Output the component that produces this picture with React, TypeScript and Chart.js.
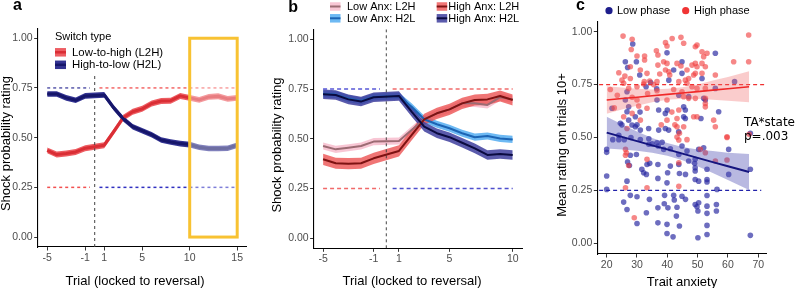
import React, { useEffect, useRef } from "react";
import { Chart, registerables } from "chart.js";

Chart.register(...registerables);

const SANS = "'Liberation Sans', Arial, Helvetica, sans-serif";
const DEJAVU = "'DejaVu Sans', sans-serif";

// ---------------- Panel a data ----------------
const trialsA = [-5, -4, -3, -2, -1, 1, 2, 3, 4, 5, 6, 7, 8, 9, 10, 11, 12, 13, 14, 15];
const aL2H = [0.436, 0.415, 0.42, 0.428, 0.447, 0.462, 0.53, 0.6, 0.63, 0.645, 0.672, 0.684, 0.686, 0.71, 0.7, 0.69, 0.705, 0.708, 0.695, 0.7];
const aL2Hse = [0.015, 0.015, 0.015, 0.015, 0.015, 0.015, 0.015, 0.015, 0.015, 0.015, 0.015, 0.015, 0.015, 0.015, 0.015, 0.015, 0.015, 0.015, 0.015, 0.015];
const aH2L = [0.72, 0.72, 0.7, 0.688, 0.71, 0.715, 0.65, 0.595, 0.555, 0.535, 0.515, 0.488, 0.478, 0.47, 0.465, 0.452, 0.445, 0.445, 0.447, 0.462];
const aH2Lse = [0.014, 0.014, 0.014, 0.014, 0.014, 0.014, 0.014, 0.014, 0.014, 0.014, 0.014, 0.014, 0.014, 0.014, 0.014, 0.014, 0.014, 0.014, 0.014, 0.014];
const trialTicksA = [-5, -1, 1, 5, 10, 15];
const refLinesA: [number, number, number][] = [[-5, -0.5, 0.75], [0.5, 15, 0.75], [-5, -0.5, 0.25], [0.5, 15, 0.25]];
const reversalA: [number, number] = [-0.05, 0.81];
const highlightA = { x0: 10, x1: 15, y0: 0, y1: 1 };
const legendTitleA = "Switch type";
const legendLabelsA = ["Low-to-high (L2H)", "High-to-low (H2L)"];

// ---------------- Panel b data ----------------
const trialsB = [-5, -4, -3, -2, -1, 1, 2, 3, 4, 5, 6, 7, 8, 9, 10];
const bLowL2H = [0.464, 0.447, 0.455, 0.464, 0.486, 0.489, 0.544, 0.598, 0.628, 0.648, 0.678, 0.678, 0.67, 0.709, 0.698];
const bLowH2L = [0.725, 0.722, 0.702, 0.69, 0.71, 0.715, 0.661, 0.598, 0.573, 0.553, 0.528, 0.508, 0.514, 0.502, 0.497];
const bHighL2H = [0.397, 0.377, 0.375, 0.377, 0.402, 0.439, 0.519, 0.598, 0.628, 0.648, 0.678, 0.695, 0.698, 0.715, 0.695];
const bHighH2L = [0.724, 0.72, 0.698, 0.687, 0.709, 0.715, 0.636, 0.561, 0.528, 0.508, 0.48, 0.452, 0.419, 0.424, 0.419];
const bLowL2Hse = [0.018, 0.018, 0.018, 0.018, 0.018, 0.018, 0.018, 0.018, 0.018, 0.018, 0.018, 0.018, 0.018, 0.018, 0.018];
const bLowH2Lse = [0.018, 0.018, 0.018, 0.018, 0.018, 0.018, 0.018, 0.018, 0.018, 0.018, 0.018, 0.018, 0.018, 0.018, 0.018];
const bHighL2Hse = [0.028, 0.028, 0.028, 0.028, 0.028, 0.028, 0.028, 0.028, 0.028, 0.028, 0.028, 0.028, 0.028, 0.028, 0.028];
const bHighH2Lse = [0.024, 0.024, 0.024, 0.024, 0.024, 0.024, 0.024, 0.024, 0.024, 0.024, 0.024, 0.024, 0.024, 0.024, 0.024];
const trialTicksB = [-5, -1, 1, 5, 10];
const refLinesB: [number, number, number][] = [[-5, -0.5, 0.75], [0.5, 10, 0.75], [-5, -0.5, 0.25], [0.5, 10, 0.25]];
const reversalB: [number, number] = [-0.05, 1.05];
const legendLabelsB = ["Low Anx: L2H", "Low Anx: H2L", "High Anx: L2H", "High Anx: H2L"];

// ---------------- Panel c data ----------------
const highPhasePoints: [number, number][] = [
  [25.4, 0.979], [28.4, 0.964], [28.1, 0.916], [30.0, 0.885], [32.5, 0.885], [32.5, 0.866], [36.4, 0.91], [36.9, 0.89],
  [39.4, 0.948], [39.9, 0.932], [41.6, 0.968], [44.5, 0.973], [38.8, 0.858], [39.9, 0.85], [36.9, 0.842], [27.8, 0.834],
  [31.1, 0.819], [33.3, 0.803], [24, 0.806], [25.05, 0.771], [25.6, 0.756], [27.8, 0.779], [32.4, 0.764], [34.2, 0.767],
  [32.2, 0.753], [36.6, 0.764], [39.4, 0.819], [40.5, 0.811], [40.8, 0.795], [43.2, 0.85], [44.5, 0.838], [43.8, 0.764],
  [21.2, 0.727], [27.25, 0.732], [30, 0.74], [33.5, 0.708], [36.6, 0.721], [42.1, 0.727], [28.4, 0.69], [30, 0.677],
  [39.9, 0.677], [30.55, 0.649], [33.3, 0.638], [28.4, 0.614], [25.6, 0.598], [31.1, 0.582], [43.8, 0.63], [39.9, 0.582],
  [43.2, 0.59], [43.2, 0.551], [26.7, 0.543], [22.5, 0.64], [23.5, 0.7], [26, 0.79], [35.5, 0.75], [37.5, 0.8],
  [38, 0.56], [41.5, 0.62], [42.5, 0.56], [44, 0.52],
  [26.2, 0.444], [26.5, 0.428], [26.2, 0.416], [27.25, 0.368], [33.3, 0.397], [26.2, 0.263], [33.3, 0.263], [29.1, 0.121],
  [43.8, 0.27], [43.8, 0.381], [43.8, 0.488], [43.2, 0.502],
  [66.85, 0.984], [66.85, 0.858], [61.9, 0.858], [49.8, 0.937], [49.25, 0.929], [45.4, 0.945], [51.45, 0.905], [53.1, 0.898],
  [52, 0.882], [51.45, 0.85], [49.25, 0.85], [49.8, 0.834], [48.15, 0.842], [52.55, 0.834], [46.5, 0.819], [49.25, 0.803],
  [51.45, 0.803], [48.7, 0.795], [55.85, 0.795], [45.95, 0.771], [47.05, 0.779], [46.5, 0.756], [48.15, 0.74], [49.8, 0.732],
  [52.55, 0.732], [44.85, 0.716], [49.25, 0.685], [52.55, 0.685], [45.4, 0.693], [47.05, 0.685], [52.55, 0.661], [52.55, 0.645],
  [48.7, 0.598], [49.8, 0.598], [55.3, 0.582], [55.85, 0.551], [45.4, 0.551], [59.7, 0.504],
  [50.9, 0.444], [52.55, 0.428], [55.85, 0.389], [59.7, 0.394], [59.7, 0.5], [46.5, 0.49], [67, 0.515],
];
const lowPhasePoints: [number, number][] = [
  [28.6, 0.942], [39.9, 0.9], [26.15, 0.858], [29.8, 0.858], [26.9, 0.831], [30.9, 0.795], [42.1, 0.819], [40.5, 0.771],
  [26.7, 0.716], [43.8, 0.7], [26.15, 0.677], [36.6, 0.677], [21.75, 0.638], [27.25, 0.645], [37.15, 0.63], [26.7, 0.622],
  [29.45, 0.598], [27.25, 0.582], [39.35, 0.614], [45.4, 0.645], [28.35, 0.559], [29.45, 0.551], [31.1, 0.535], [33.85, 0.543],
  [37.15, 0.535], [39.35, 0.543], [40.45, 0.535], [43.75, 0.527], [24.5, 0.567], [33, 0.74], [34.5, 0.76], [36.5, 0.73],
  [40, 0.63], [31, 0.62],
  [20, 0.444], [20, 0.43], [20, 0.318], [20, 0.255], [24, 0.49], [25.8, 0.49], [26.9, 0.384], [27.5, 0.368], [27.8, 0.416],
  [29.8, 0.42], [26.7, 0.294], [27.8, 0.227], [30, 0.22], [25.6, 0.195], [26.7, 0.16], [31.6, 0.35], [32.2, 0.334], [33.1, 0.326],
  [33.3, 0.373], [34.2, 0.378], [36.9, 0.373], [36.9, 0.307], [41, 0.365], [40.1, 0.334], [43.8, 0.373], [44, 0.33], [39.9, 0.286],
  [34.1, 0.208], [33.1, 0.145], [30, 0.094], [36.9, 0.168], [36.9, 0.097], [39.1, 0.227], [39, 0.187], [40.2, 0.168], [42.1, 0.227],
  [42.3, 0.205], [43.2, 0.171], [39.9, 0.09], [39.9, 0.047], [41.9, 0.031], [44, 0.082], [43, 0.129], [43.8, 0.42], [36.6, 0.475],
  [38.3, 0.478], [38.8, 0.444], [41, 0.447], [33.9, 0.468], [31.1, 0.491], [33.9, 0.494], [22, 0.49], [24, 0.51], [25, 0.56],
  [28, 0.5], [30, 0.56], [35, 0.47], [37, 0.46],
  [52, 0.452], [44.85, 0.46], [47.05, 0.389], [49.2, 0.357], [49.2, 0.342], [46, 0.326], [49.2, 0.302], [50.35, 0.294], [53.1, 0.35],
  [53.1, 0.302], [53.1, 0.29], [56.4, 0.255], [60.25, 0.444], [60.25, 0.326], [67.4, 0.35], [44.85, 0.223], [46, 0.208], [49.2, 0.184],
  [50.35, 0.192], [49.8, 0.173], [50.1, 0.153], [53.1, 0.226], [53.1, 0.176], [53.1, 0.142], [56.2, 0.184], [56.2, 0.153], [53.1, 0.085],
  [50.1, 0.027], [53.1, 0.042], [67.4, 0.038], [46.5, 0.436], [50.35, 0.444], [49.2, 0.397], [49, 0.378],
  [55.85, 0.898], [62.2, 0.764], [55.85, 0.732], [51.45, 0.779], [47.05, 0.693], [52, 0.685], [52.55, 0.677], [45.95, 0.63],
  [45.4, 0.598], [45.95, 0.59], [56.95, 0.622], [51.1, 0.59], [44.85, 0.803], [44.85, 0.858], [67.4, 0.52],
];
const fitX = [20, 25, 30, 35, 40, 45, 50, 55, 60, 67];
const highFit = [0.677, 0.684, 0.69, 0.697, 0.704, 0.71, 0.717, 0.724, 0.73, 0.74];
const highFitLo = [0.612, 0.632, 0.65, 0.667, 0.678, 0.683, 0.683, 0.679, 0.674, 0.667];
const highFitHi = [0.742, 0.736, 0.73, 0.727, 0.73, 0.737, 0.751, 0.769, 0.786, 0.813];
const lowFit = [0.523, 0.503, 0.483, 0.463, 0.444, 0.424, 0.404, 0.384, 0.364, 0.337];
const lowFitLo = [0.448, 0.443, 0.437, 0.428, 0.414, 0.393, 0.364, 0.332, 0.3, 0.252];
const lowFitHi = [0.598, 0.563, 0.529, 0.498, 0.474, 0.455, 0.444, 0.436, 0.428, 0.422];
const anxTicks = [20, 30, 40, 50, 60, 70];
const refLinesC: [number, number, number][] = [[17.5, 72, 0.75], [17.5, 71, 0.25]];
const legendLabelsC = ["Low phase", "High phase"];
const statText = ["TA*state", "p=.003"];

const ratingTicks = [0, 0.25, 0.5, 0.75, 1];

// ---------------- helpers ----------------
const pts = (xs: number[], ys: number[]) => xs.map((x, i) => ({ x, y: ys[i] }));
const NONE = "rgba(0,0,0,0)";

function ribbon(xs: number[], ys: number[], se: number[], fill: string, line: string, lw: number, lineOrder: number, fillOrder: number) {
  return [
    { type: "line", data: pts(xs, ys.map((v, i) => v + se[i])), borderWidth: 0, borderColor: NONE, pointRadius: 0, fill: false, order: fillOrder },
    { type: "line", data: pts(xs, ys.map((v, i) => v - se[i])), borderWidth: 0, borderColor: NONE, pointRadius: 0, fill: "-1", backgroundColor: fill, order: fillOrder },
    { type: "line", data: pts(xs, ys), borderColor: line, borderWidth: lw, pointRadius: 0, fill: false, order: lineOrder, borderJoinStyle: "round" },
  ];
}

function hline(seg: [number, number, number], color: string, width: number, dash: number[]) {
  return { type: "line", data: [{ x: seg[0], y: seg[2] }, { x: seg[1], y: seg[2] }], borderColor: color, borderWidth: width, borderDash: dash, pointRadius: 0, fill: false, order: 20 };
}

function vline(x: number, yr: [number, number]) {
  return { type: "line", data: [{ x, y: yr[0] }, { x, y: yr[1] }], borderColor: "#444444", borderWidth: 1, borderDash: [3, 3], pointRadius: 0, fill: false, order: 19 };
}

function scaleCfg(min: number, max: number, ticks: number[], fmt: (v: number) => string, size: number, vertical: boolean) {
  return {
    type: "linear",
    min,
    max,
    afterBuildTicks: (s: any) => {
      s.ticks = ticks.map((v) => ({ value: v }));
    },
    afterFit: (s: any) => {
      if (vertical) s.width = size;
      else s.height = size;
    },
    ticks: {
      color: "#4D4D4D",
      font: { size: 10.5, family: SANS },
      padding: 1.5,
      autoSkip: false,
      maxRotation: 0,
      minRotation: 0,
      callback: (v: any) => fmt(Number(v)),
    },
    grid: { display: true, drawOnChartArea: false, drawTicks: true, tickLength: 3.5, color: "#333333", lineWidth: 1 },
    border: { display: true, color: "#000000", width: 1.1 },
    title: { display: false },
  };
}

function text(ctx: CanvasRenderingContext2D, s: string, x: number, y: number, font: string, color = "#000", align: CanvasTextAlign = "left", baseline: CanvasTextBaseline = "middle") {
  ctx.save();
  ctx.font = font;
  ctx.fillStyle = color;
  ctx.textAlign = align;
  ctx.textBaseline = baseline;
  ctx.fillText(s, x, y);
  ctx.restore();
}

function vtext(ctx: CanvasRenderingContext2D, s: string, x: number, y: number, font: string) {
  ctx.save();
  ctx.translate(x, y);
  ctx.rotate(-Math.PI / 2);
  ctx.font = font;
  ctx.fillStyle = "#000";
  ctx.textAlign = "center";
  ctx.textBaseline = "middle";
  ctx.fillText(s, 0, 0);
  ctx.restore();
}

function key(ctx: CanvasRenderingContext2D, x: number, cy: number, w: number, h: number, fill: string, line: string, lw: number) {
  ctx.save();
  ctx.fillStyle = fill;
  ctx.fillRect(x, cy - h / 2, w, h);
  ctx.strokeStyle = line;
  ctx.lineWidth = lw;
  ctx.beginPath();
  ctx.moveTo(x, cy);
  ctx.lineTo(x + w, cy);
  ctx.stroke();
  ctx.restore();
}

const fmtRating = (v: number) => v.toFixed(2);
const fmtInt = (v: number) => String(Math.round(v));
const TITLE_FONT = `13px ${SANS}`;
const LETTER_FONT = `bold 16px ${SANS}`;

// colours
const A_RED_FILL = "rgba(236,84,90,0.95)";
const A_RED_LINE = "#DA2E35";
const A_BLUE_FILL = "rgba(40,40,140,0.95)";
const A_BLUE_LINE = "#16166A";
const B_COLORS = [
  { fill: "rgba(247,188,204,0.85)", line: "#9C6B73" },
  { fill: "rgba(72,168,240,0.8)", line: "#1C64B4" },
  { fill: "rgba(236,82,82,0.8)", line: "#7E1212" },
  { fill: "rgba(62,62,158,0.85)", line: "#0A0A40" },
];

function configA(): any {
  const plugin = {
    id: "panelA",
    afterDatasetsDraw(chart: any) {
      const { ctx, scales } = chart;
      const l = scales.x.getPixelForValue(highlightA.x0);
      const r = scales.x.getPixelForValue(highlightA.x1);
      const t = scales.y.getPixelForValue(highlightA.y1);
      const b = scales.y.getPixelForValue(highlightA.y0);
      ctx.save();
      ctx.fillStyle = "rgba(255,255,255,0.38)";
      ctx.fillRect(l, t, r - l, b - t);
      ctx.strokeStyle = "#F8C232";
      ctx.lineWidth = 3;
      ctx.strokeRect(l, t, r - l, b - t);
      ctx.restore();
    },
    afterDraw(chart: any) {
      const ctx = chart.ctx;
      text(ctx, "a", 13, 10, LETTER_FONT, "#000", "left", "alphabetic");
      text(ctx, legendTitleA, 55, 36.5, `11px ${SANS}`);
      key(ctx, 55, 52.3, 11, 8.5, A_RED_FILL, A_RED_LINE, 2.5);
      key(ctx, 55, 64.8, 11, 8.5, A_BLUE_FILL, A_BLUE_LINE, 2.5);
      text(ctx, legendLabelsA[0], 72, 52.7, `11.4px ${SANS}`);
      text(ctx, legendLabelsA[1], 72, 65.2, `11.4px ${SANS}`);
      vtext(ctx, "Shock probability rating", 6.3, 143.5, TITLE_FONT);
      text(ctx, "Trial (locked to reversal)", 135, 285, TITLE_FONT, "#000", "center", "alphabetic");
    },
  };
  return {
    type: "line",
    data: {
      datasets: [
        ...ribbon(trialsA, aL2H, aL2Hse, A_RED_FILL, A_RED_LINE, 3, 11, 31),
        ...ribbon(trialsA, aH2L, aH2Lse, A_BLUE_FILL, A_BLUE_LINE, 3, 10, 30),
        hline(refLinesA[0], "#1E1E8C", 1.1, [3, 3]),
        hline(refLinesA[1], "#EE3030", 1.1, [3, 3]),
        hline(refLinesA[2], "#F25050", 1.5, [3, 3]),
        hline(refLinesA[3], "#3030C0", 1.5, [3, 3]),
        vline(0, reversalA),
      ],
    },
    options: {
      responsive: false,
      animation: false,
      events: [],
      layout: { autoPadding: false, padding: { left: 0, top: 28.3, right: 23.3, bottom: 0 } },
      plugins: { legend: { display: false }, tooltip: { enabled: false } },
      scales: {
        x: scaleCfg(-6, 16, trialTicksA, fmtInt, 41, false),
        y: scaleCfg(-0.05, 1.05, ratingTicks, fmtRating, 37.7, true),
      },
    },
    plugins: [plugin],
  };
}

function configB(): any {
  const plugin = {
    id: "panelB",
    afterDraw(chart: any) {
      const ctx = chart.ctx;
      text(ctx, "b", 18.3, 12, LETTER_FONT, "#000", "left", "alphabetic");
      const cols = [60, 60, 166.7, 166.7];
      const rows = [6.5, 18.3, 6.5, 18.3];
      const tx = [77, 77, 178.3, 178.3];
      for (let i = 0; i < 4; i++) {
        key(ctx, cols[i], rows[i], 10.5, 8.5, B_COLORS[i].fill, B_COLORS[i].line, 2);
        text(ctx, legendLabelsB[i], tx[i], rows[i] + 0.3, `11px ${SANS}`);
      }
      vtext(ctx, "Shock probability rating", 7.6, 145, TITLE_FONT);
      text(ctx, "Trial (locked to reversal)", 142, 285, TITLE_FONT, "#000", "center", "alphabetic");
    },
  };
  return {
    type: "line",
    data: {
      datasets: [
        ...ribbon(trialsB, bLowL2H, bLowL2Hse, B_COLORS[0].fill, B_COLORS[0].line, 2, 13, 33),
        ...ribbon(trialsB, bLowH2L, bLowH2Lse, B_COLORS[1].fill, B_COLORS[1].line, 2, 12, 32),
        ...ribbon(trialsB, bHighL2H, bHighL2Hse, B_COLORS[2].fill, B_COLORS[2].line, 2, 11, 31),
        ...ribbon(trialsB, bHighH2L, bHighH2Lse, B_COLORS[3].fill, B_COLORS[3].line, 2, 10, 30),
        hline(refLinesB[0], "rgba(70,70,210,0.9)", 1.4, [4, 3]),
        hline(refLinesB[1], "rgba(240,90,90,0.9)", 1.4, [4, 3]),
        hline(refLinesB[2], "rgba(240,90,90,0.9)", 1.4, [4, 3]),
        hline(refLinesB[3], "rgba(60,60,200,0.9)", 1.4, [4, 3]),
        vline(0, reversalB),
      ],
    },
    options: {
      responsive: false,
      animation: false,
      events: [],
      layout: { autoPadding: false, padding: { left: 0, top: 29.3, right: 17.8, bottom: 0 } },
      plugins: { legend: { display: false }, tooltip: { enabled: false } },
      scales: {
        x: scaleCfg(-5.75, 10.75, trialTicksB, fmtInt, 39.7, false),
        y: scaleCfg(-0.05, 1.05, ratingTicks, fmtRating, 43.6, true),
      },
    },
    plugins: [plugin],
  };
}

function configC(): any {
  const plugin = {
    id: "panelC",
    afterDraw(chart: any) {
      const ctx = chart.ctx;
      text(ctx, "c", 36, 10, LETTER_FONT, "#000", "left", "alphabetic");
      ctx.save();
      ctx.fillStyle = "#1E1E8C";
      ctx.beginPath();
      ctx.arc(69, 10.7, 3.6, 0, Math.PI * 2);
      ctx.fill();
      ctx.fillStyle = "#F03434";
      ctx.beginPath();
      ctx.arc(145.7, 10.7, 3.6, 0, Math.PI * 2);
      ctx.fill();
      ctx.restore();
      text(ctx, legendLabelsC[0], 77, 11, `11px ${SANS}`);
      text(ctx, legendLabelsC[1], 154, 11, `11px ${SANS}`);
      text(ctx, statText[0], 204, 122.5, `12px ${DEJAVU}`);
      text(ctx, statText[1], 204, 136.5, `12px ${DEJAVU}`);
      vtext(ctx, "Mean rating on trials 10+", 22.7, 145, TITLE_FONT);
      text(ctx, "Trait anxiety", 142, 285.5, TITLE_FONT, "#000", "center", "alphabetic");
    },
  };
  const scatter = (p: [number, number][], color: string, order: number) => ({
    type: "scatter",
    data: p.map(([x, y]) => ({ x, y })),
    backgroundColor: color,
    borderWidth: 0,
    pointRadius: 2.8,
    order,
  });
  const band = (lo: number[], hi: number[], color: string) => [
    { type: "line", data: pts(fitX, hi), borderWidth: 0, borderColor: NONE, pointRadius: 0, fill: false, order: 15 },
    { type: "line", data: pts(fitX, lo), borderWidth: 0, borderColor: NONE, pointRadius: 0, fill: "-1", backgroundColor: color, order: 15 },
  ];
  return {
    type: "line",
    data: {
      datasets: [
        scatter(lowPhasePoints, "rgba(40,40,160,0.68)", 31),
        scatter(highPhasePoints, "rgba(240,62,62,0.62)", 30),
        ...band(highFitLo, highFitHi, "rgba(240,100,100,0.33)"),
        ...band(lowFitLo, lowFitHi, "rgba(70,70,175,0.38)"),
        { type: "line", data: pts(fitX, highFit), borderColor: "#F02828", borderWidth: 1.6, pointRadius: 0, fill: false, order: 5 },
        { type: "line", data: pts(fitX, lowFit), borderColor: "#14147F", borderWidth: 2, pointRadius: 0, fill: false, order: 5 },
        hline(refLinesC[0], "#F03030", 1.3, [4, 3]),
        hline(refLinesC[1], "#2222AA", 1.3, [4, 3]),
      ],
    },
    options: {
      responsive: false,
      animation: false,
      events: [],
      layout: { autoPadding: false, padding: { left: 0, top: 21.7, right: 33.3, bottom: 0 } },
      plugins: { legend: { display: false }, tooltip: { enabled: false }, filler: { drawTime: "beforeDatasetDraw" } },
      scales: {
        x: scaleCfg(16.9, 72.8, anxTicks, fmtInt, 34, false),
        y: scaleCfg(-0.05, 1.047, ratingTicks, fmtRating, 57.3, true),
      },
    },
    plugins: [plugin],
  };
}

export default function App() {
  const ra = useRef<HTMLCanvasElement>(null);
  const rb = useRef<HTMLCanvasElement>(null);
  const rc = useRef<HTMLCanvasElement>(null);

  useEffect(() => {
    Chart.defaults.font.family = SANS;
    const charts: Chart[] = [];
    if (ra.current) charts.push(new Chart(ra.current, configA()));
    if (rb.current) charts.push(new Chart(rb.current, configB()));
    if (rc.current) charts.push(new Chart(rc.current, configC()));
    return () => charts.forEach((c) => c.destroy());
  }, []);

  const cs = (left: number, width: number): React.CSSProperties => ({ position: "absolute", left, top: 0, width, height: 288, display: "block" });

  return (
    <div style={{ position: "fixed", left: 0, top: 0, width: 800, height: 288, background: "#ffffff", overflow: "hidden" }}>
      <canvas ref={ra} width={270} height={288} style={cs(0, 270)} />
      <canvas ref={rb} width={270} height={288} style={cs(270, 270)} />
      <canvas ref={rc} width={260} height={288} style={cs(540, 260)} />
    </div>
  );
}
